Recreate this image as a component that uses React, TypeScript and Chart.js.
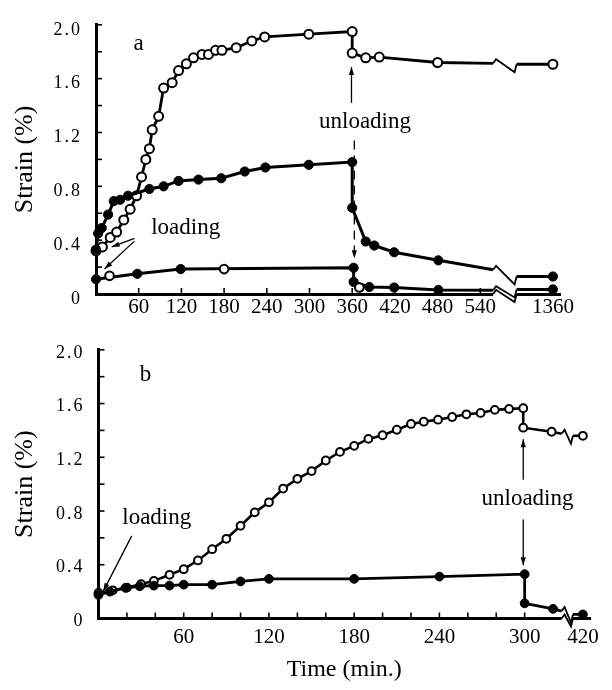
import React, { useEffect, useRef } from 'react';
import { Chart, registerables } from 'chart.js';

Chart.register(...registerables);

const SERIF = '"Liberation Serif", "Times New Roman", serif';

// ---------------- Panel a ----------------
const A_X_LABELS = [60, 120, 180, 240, 300, 360, 420, 480, 540, 1360];
const A_X_MINOR = [60, 120, 180, 240, 300, 360, 420, 480, 540];
const Y_MINOR = [0.2, 0.4, 0.6, 0.8, 1.0, 1.2, 1.4, 1.6, 1.8, 2.0];

// open circles, upper curve
const A_OPEN_T = [0, 9, 20, 29, 39, 48, 57, 64, 70, 75, 79, 88, 95, 107, 116, 127, 137, 149, 158, 168, 177, 197, 219, 237, 299, 360, 360, 379, 398, 480, 1360];
const A_OPEN_V = [0.32, 0.35, 0.42, 0.46, 0.55, 0.63, 0.73, 0.87, 1.0, 1.08, 1.22, 1.32, 1.53, 1.57, 1.66, 1.71, 1.755, 1.78, 1.78, 1.81, 1.81, 1.83, 1.88, 1.91, 1.93, 1.95, 1.79, 1.755, 1.76, 1.72, 1.707];
const A_OPEN_BREAK = [1.714, 1.707];

// filled circles, middle curve
const A_MID_T = [0, 3, 8, 17, 25, 34, 45, 75, 95, 116, 144, 176, 209, 238, 299, 360, 360, 379, 391, 419, 481, 1360];
const A_MID_V = [0.33, 0.45, 0.49, 0.59, 0.69, 0.7, 0.73, 0.78, 0.8, 0.84, 0.85, 0.86, 0.91, 0.94, 0.96, 0.98, 0.64, 0.39, 0.36, 0.31, 0.25, 0.13];
const A_MID_BREAK = [0.18, 0.13];

// filled circles, lower curve
const A_LOW_T = [0, 58, 119, 362, 362, 384, 419, 481, 1360];
const A_LOW_V = [0.11, 0.15, 0.185, 0.195, 0.09, 0.052, 0.048, 0.03, 0.034];
const A_LOW_BREAK = [0.028, 0.034];

// open circles sitting on the lower curve
const A_LOWOPEN_T = [19, 180, 370];
const A_LOWOPEN_V = [0.135, 0.185, 0.048];

const A_TEXTS = [
  { text: 'a', t: 60, v: 1.86, size: 23 },
  { text: 'loading', t: 126, v: 0.49, size: 23 },
  { text: 'unloading', t: 378, v: 1.28, size: 23 },
];
const A_ARROWS = [
  { t0: 54, v0: 0.414, t1: 22, v1: 0.35, dash: false },
  { t0: 54, v0: 0.393, t1: 12, v1: 0.186, dash: false },
  { t0: 359, v0: 1.42, t1: 359, v1: 1.686, dash: false },
  { t0: 363, v0: 1.14, t1: 363, v1: 0.265, dash: true },
];

// ---------------- Panel b ----------------
const B_X_LABELS = [60, 120, 180, 240, 300, 420];
const B_X_MINOR = [20, 40, 60, 80, 100, 120, 140, 160, 180, 200, 220, 240, 260, 280, 300];

const B_OPEN_T = [0, 10, 20, 30, 39, 50, 60, 70, 80, 90, 100, 110, 120, 130, 140, 150, 160, 170, 180, 190, 200, 210, 220, 229, 239, 249, 259, 269, 279, 289, 299, 299, 319, 420];
const B_OPEN_V = [0.19, 0.21, 0.23, 0.255, 0.28, 0.325, 0.367, 0.432, 0.516, 0.593, 0.69, 0.79, 0.865, 0.967, 1.04, 1.097, 1.176, 1.24, 1.285, 1.337, 1.364, 1.405, 1.448, 1.465, 1.48, 1.5, 1.52, 1.53, 1.553, 1.56, 1.565, 1.42, 1.39, 1.36];
const B_OPEN_BREAK = [1.375, 1.36];

const B_FILL_T = [0, 8, 19, 29, 39, 50, 60, 80, 100, 120, 180, 240, 300, 300, 320, 420];
const B_FILL_V = [0.175, 0.2, 0.228, 0.24, 0.245, 0.245, 0.252, 0.252, 0.276, 0.295, 0.295, 0.312, 0.33, 0.113, 0.072, 0.03];
const B_FILL_BREAK = [0.055, 0.03];

const B_TEXTS = [
  { text: 'b', t: 33, v: 1.81, size: 23 },
  { text: 'loading', t: 41, v: 0.75, size: 23 },
  { text: 'unloading', t: 302, v: 0.89, size: 23 },
];
const B_ARROWS = [
  { t0: 23.4, v0: 0.615, t1: 3.4, v1: 0.204, dash: false },
  { t0: 299, v0: 1.032, t1: 299, v1: 1.335, dash: false },
  { t0: 299, v0: 0.737, t1: 299, v1: 0.397, dash: false },
];

// axis-break mapping (time values after the break are shifted next to it)
const mapA = (t: number) => (t > 1000 ? t - 1360 + 642 : t);
const mapB = (t: number) => (t > 400 ? t - 420 + 341 : t);

function buildPoints(ts: number[], vs: number[], brk: number[] | null, map: (t: number) => number, bl: number, br: number) {
  const pts: any[] = [];
  let inserted = false;
  ts.forEach((t, i) => {
    const x = map(t);
    if (brk && !inserted && x > bl) {
      pts.push({ x: bl, y: brk[0], anchor: true });
      pts.push({ x: (bl + br) / 2, y: null, anchor: true });
      pts.push({ x: br, y: brk[1], anchor: true });
      inserted = true;
    }
    pts.push({ x, y: vs[i] });
  });
  return pts;
}

function filledStyle(r: number, bw: number) {
  return {
    borderColor: '#000',
    borderWidth: bw,
    pointBackgroundColor: '#000',
    pointBorderColor: '#000',
    pointBorderWidth: 1,
    pointRadius: (c: any) => (c.raw && c.raw.anchor ? 0 : r),
    pointHoverRadius: r,
    tension: 0,
    fill: false,
    clip: false as any,
  };
}
function openStyle(r: number, bw: number) {
  return {
    borderColor: '#000',
    borderWidth: bw,
    pointBackgroundColor: '#fff',
    pointBorderColor: '#000',
    pointBorderWidth: 2,
    pointRadius: (c: any) => (c.raw && c.raw.anchor ? 0 : r),
    pointHoverRadius: r,
    tension: 0,
    fill: false,
    clip: false as any,
  };
}

function zigzag(ctx: CanvasRenderingContext2D, xl: number, yl: number, xr: number, yr: number) {
  ctx.beginPath();
  ctx.moveTo(xl, yl);
  ctx.lineTo(xl + 3, yl - 4);
  ctx.lineTo(xr - 2, yr + 8);
  ctx.lineTo(xr, yr);
  ctx.stroke();
}

function arrow(ctx: CanvasRenderingContext2D, x0: number, y0: number, x1: number, y1: number, dash: boolean) {
  ctx.save();
  ctx.lineWidth = 1.3;
  if (dash) ctx.setLineDash([9, 6]);
  ctx.beginPath();
  ctx.moveTo(x0, y0);
  ctx.lineTo(x1, y1);
  ctx.stroke();
  ctx.setLineDash([]);
  const a = Math.atan2(y1 - y0, x1 - x0);
  const L = 8, W = 2.6;
  ctx.beginPath();
  ctx.moveTo(x1, y1);
  ctx.lineTo(x1 - L * Math.cos(a) + W * Math.sin(a), y1 - L * Math.sin(a) - W * Math.cos(a));
  ctx.lineTo(x1 - L * Math.cos(a) - W * Math.sin(a), y1 - L * Math.sin(a) + W * Math.cos(a));
  ctx.closePath();
  ctx.fill();
  ctx.restore();
}

function makeDecor(spec: any) {
  return {
    id: 'decor',
    beforeDraw(chart: any) {
      const ys: any = chart.scales.y;
      if (ys && !ys.__ls) {
        const orig = ys.drawLabels.bind(ys);
        ys.drawLabels = (area: any) => {
          const c: any = chart.ctx;
          c.save();
          c.letterSpacing = '2px';
          orig(area);
          c.restore();
        };
        ys.__ls = true;
      }
    },
    afterDatasetsDraw(chart: any) {
      const { ctx, chartArea } = chart;
      const x = chart.scales.x, y = chart.scales.y;
      ctx.save();
      ctx.strokeStyle = '#000';
      ctx.fillStyle = '#000';
      // inward ticks
      ctx.lineWidth = 1.6;
      spec.yMinor.forEach((v: number) => {
        const py = y.getPixelForValue(v);
        ctx.beginPath();
        ctx.moveTo(chartArea.left, py);
        ctx.lineTo(chartArea.left + 6, py);
        ctx.stroke();
      });
      spec.xMinor.forEach((t: number) => {
        const px = x.getPixelForValue(t);
        ctx.beginPath();
        ctx.moveTo(px, chartArea.bottom);
        ctx.lineTo(px, chartArea.bottom - 6);
        ctx.stroke();
      });
      // axis break
      const bl = x.getPixelForValue(spec.breakL);
      const br = x.getPixelForValue(spec.breakR);
      const by = chartArea.bottom;
      ctx.fillStyle = '#fff';
      ctx.fillRect(bl, by - 2, br - bl, 4.5);
      ctx.fillStyle = '#000';
      ctx.lineWidth = 1.8;
      zigzag(ctx, bl, by, br, by);
      // curve breaks
      chart.data.datasets.forEach((ds: any) => {
        const d = ds.data;
        for (let i = 1; i < d.length - 1; i++) {
          if (d[i] && d[i].y === null && d[i - 1].y !== null && d[i + 1].y !== null) {
            ctx.lineWidth = 1.8;
            zigzag(
              ctx,
              x.getPixelForValue(d[i - 1].x), y.getPixelForValue(d[i - 1].y),
              x.getPixelForValue(d[i + 1].x), y.getPixelForValue(d[i + 1].y)
            );
          }
        }
      });
      // annotation texts
      ctx.textAlign = 'center';
      ctx.textBaseline = 'middle';
      spec.texts.forEach((tx: any) => {
        ctx.font = `${tx.size}px ${SERIF}`;
        ctx.fillText(tx.text, x.getPixelForValue(tx.t), y.getPixelForValue(tx.v));
      });
      spec.arrows.forEach((a: any) => {
        arrow(ctx, x.getPixelForValue(a.t0), y.getPixelForValue(a.v0), x.getPixelForValue(a.t1), y.getPixelForValue(a.v1), a.dash);
      });
      ctx.restore();
    },
  };
}

function makeConfig(spec: any): any {
  return {
    type: 'line',
    data: { datasets: spec.datasets },
    options: {
      animation: false,
      responsive: false,
      devicePixelRatio: 1,
      events: [],
      layout: { padding: { top: spec.padTop, right: spec.padRight, left: 0, bottom: 0 } },
      plugins: { legend: { display: false }, tooltip: { enabled: false }, title: { display: false } },
      scales: {
        x: {
          type: 'linear',
          min: 0,
          max: spec.xMax,
          grid: { display: false, drawTicks: false },
          border: { display: true, color: '#000', width: 3 },
          afterFit: (s: any) => { s.height = spec.xAxisH; },
          afterBuildTicks: (s: any) => { s.ticks = spec.xLabels.map((t: number) => ({ value: spec.map(t) })); },
          ticks: {
            autoSkip: false,
            maxRotation: 0,
            minRotation: 0,
            padding: spec.xTickPad,
            color: '#000',
            font: { family: SERIF, size: 21 },
            callback: (_v: any, idx: number) => String(spec.xLabels[idx]),
          },
          title: spec.xTitle
            ? { display: true, text: spec.xTitle, color: '#000', font: { family: SERIF, size: 24 }, padding: { top: 0, bottom: 6 } }
            : { display: false },
        },
        y: {
          type: 'linear',
          min: 0,
          max: 2,
          grid: { display: false, drawTicks: false },
          border: { display: true, color: '#000', width: 3 },
          afterFit: (s: any) => { s.width = spec.yWidth; },
          ticks: {
            stepSize: 0.4,
            padding: 14,
            labelOffset: spec.yLabelOffset,
            color: '#000',
            font: { family: SERIF, size: 18 },
            callback: (v: any) => (Math.abs(v) < 1e-9 ? '0' : Number(v).toFixed(1)),
          },
          title: { display: true, text: 'Strain (%)', color: '#000', font: { family: SERIF, size: 26 }, padding: { top: 10, bottom: 0 } },
        },
      },
    },
    plugins: [makeDecor(spec)],
  };
}

const A_BL = 558, A_BR = 591;
const B_BL = 326, B_BR = 334;

export default function App() {
  const refA = useRef<HTMLCanvasElement>(null);
  const refB = useRef<HTMLCanvasElement>(null);

  useEffect(() => {
    const specA = {
      padTop: 14, padRight: 52, yWidth: 96, xAxisH: 31, xMax: 652, xTickPad: 1, yLabelOffset: 5,
      xLabels: A_X_LABELS, xMinor: A_X_MINOR, yMinor: Y_MINOR, map: mapA, breakL: A_BL, breakR: A_BR,
      xTitle: null, texts: A_TEXTS, arrows: A_ARROWS,
      datasets: [
        { data: buildPoints(A_MID_T, A_MID_V, A_MID_BREAK, mapA, A_BL, A_BR), ...filledStyle(4.6, 3) },
        { data: buildPoints(A_LOWOPEN_T, A_LOWOPEN_V, null, mapA, A_BL, A_BR), ...openStyle(4.3, 2.5), showLine: false },
        { data: buildPoints(A_LOW_T, A_LOW_V, A_LOW_BREAK, mapA, A_BL, A_BR), ...filledStyle(4.6, 3) },
        { data: buildPoints(A_OPEN_T, A_OPEN_V, A_OPEN_BREAK, mapA, A_BL, A_BR), ...openStyle(4.5, 2.8) },
      ],
    };
    const specB = {
      padTop: 16, padRight: 22, yWidth: 98.5, xAxisH: 71.5, xMax: 346, xTickPad: 6, yLabelOffset: 3,
      xLabels: B_X_LABELS, xMinor: B_X_MINOR, yMinor: Y_MINOR, map: mapB, breakL: B_BL, breakR: B_BR,
      xTitle: 'Time (min.)', texts: B_TEXTS, arrows: B_ARROWS,
      datasets: [
        { data: buildPoints(B_FILL_T, B_FILL_V, B_FILL_BREAK, mapB, B_BL, B_BR), ...filledStyle(4.4, 2.8) },
        { data: buildPoints(B_OPEN_T, B_OPEN_V, B_OPEN_BREAK, mapB, B_BL, B_BR), ...openStyle(3.9, 2.6) },
      ],
    };
    const ca = new Chart(refA.current as HTMLCanvasElement, makeConfig(specA));
    const cb = new Chart(refB.current as HTMLCanvasElement, makeConfig(specB));
    return () => {
      ca.destroy();
      cb.destroy();
    };
  }, []);

  return (
    <div style={{ position: 'absolute', left: 0, top: 0, width: 612, height: 690, background: '#fff' }}>
      <canvas ref={refA} width={612} height={325} style={{ position: 'absolute', left: 0, top: 0, width: 612, height: 325 }} />
      <canvas ref={refB} width={612} height={365} style={{ position: 'absolute', left: 0, top: 325, width: 612, height: 365 }} />
    </div>
  );
}
